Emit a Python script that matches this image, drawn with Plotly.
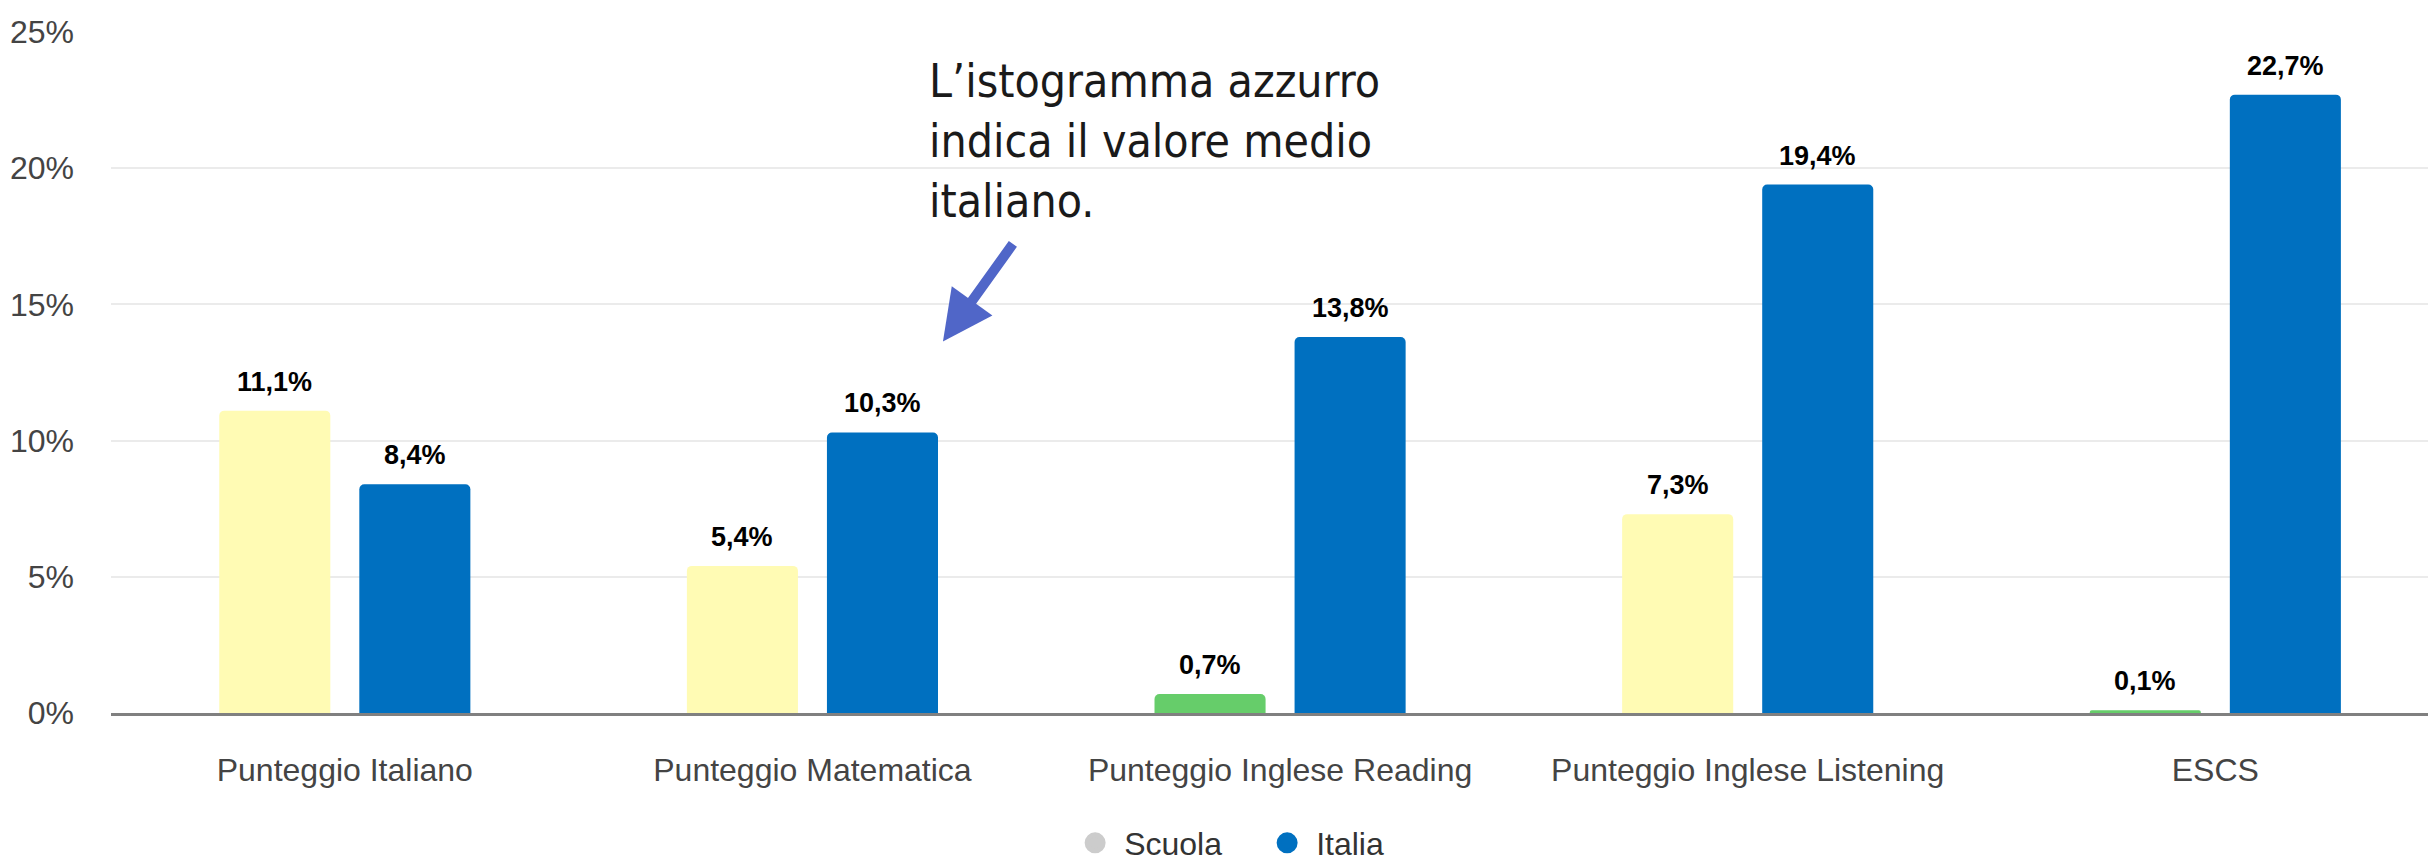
# Punteggi: scuola vs media italiana
import plotly.graph_objects as go

# Data
categories = [
    "Punteggio Italiano",
    "Punteggio Matematica",
    "Punteggio Inglese Reading",
    "Punteggio Inglese Listening",
    "ESCS",
]
scuola = [11.1, 5.4, 0.7, 7.3, 0.1]
italia = [8.4, 10.3, 13.8, 19.4, 22.7]

# Colours (school bars change colour per category)
scuola_colors = ["#FFFBB4", "#FFFBB4", "#66CD6A", "#FFFBB4", "#66CD6A"]
italia_color = "#0070C0"
legend_grey = "#CCCCCC"

font_main = "Liberation Sans, Arial, sans-serif"
font_note = "Liberation Sans Narrow, Arial Narrow, DejaVu Sans Condensed, sans-serif"


def fmt(v):
    return f"{v:.1f}".replace(".", ",") + "%"


fig = go.Figure()

fig.add_trace(
    go.Bar(
        x=categories,
        y=scuola,
        name="Scuola",
        marker=dict(color=scuola_colors, line=dict(width=0), cornerradius=5),
        showlegend=False,
    )
)
fig.add_trace(
    go.Bar(
        x=categories,
        y=italia,
        name="Italia",
        marker=dict(color=italia_color, line=dict(width=0), cornerradius=5),
        showlegend=False,
    )
)

# Legend-only traces, to get the round markers
for name, col in [("Scuola", legend_grey), ("Italia", italia_color)]:
    fig.add_trace(
        go.Scatter(
            x=[None], y=[None], mode="markers", name=name,
            marker=dict(color=col, size=16, line=dict(color=col, width=5)),
        )
    )

# Value labels above the bars
label_font = dict(family=font_main, size=27, color="#000000")
for cat, s, i in zip(categories, scuola, italia):
    fig.add_annotation(
        x=cat, y=s, text="<b>" + fmt(s) + "</b>", showarrow=False,
        xshift=-70, yshift=12, yanchor="bottom", font=label_font,
    )
    fig.add_annotation(
        x=cat, y=i, text="<b>" + fmt(i) + "</b>", showarrow=False,
        xshift=70, yshift=12, yanchor="bottom", font=label_font,
    )

# Note with arrow
fig.add_annotation(
    xref="paper", yref="paper", x=0.3496, y=0.971,
    xanchor="left", yanchor="top", align="left", showarrow=False,
    text="L’istogramma azzurro<br>indica il valore medio<br>italiano.",
    font=dict(family=font_note, size=46, color="#1A1A1A"),
)
fig.add_annotation(
    xref="paper", yref="paper", x=0.3566, y=0.5456,
    ax=71, ay=-99, text="", showarrow=True,
    arrowhead=2, arrowsize=1.0, arrowwidth=10, arrowcolor="#5066C8",
)

fig.update_layout(
    width=2436,
    height=863,
    margin=dict(l=103, r=0, t=24, b=148),
    barmode="group",
    bargap=0.401,
    bargroupgap=0.207,
    plot_bgcolor="white",
    paper_bgcolor="white",
    font=dict(family=font_main, size=32, color="#444444"),
    legend=dict(
        orientation="h", x=0.4094, xanchor="left", y=-0.191, yanchor="middle",
        font=dict(size=32, color="#333333"), itemsizing="trace",
        itemwidth=48, entrywidth=129,
    ),
    xaxis=dict(
        range=[-0.5, 4.489], automargin=False,
        showline=True, linecolor="#808080", linewidth=3,
        ticks="", ticklabelstandoff=27, showgrid=False,
    ),
    yaxis=dict(
        range=[0, 25], dtick=5, ticksuffix="%", automargin=False,
        showgrid=True, gridcolor="#EBEBEB", gridwidth=2,
        zeroline=False, ticks="", ticklabelstandoff=36,
    ),
)

fig.write_html("out.html")
